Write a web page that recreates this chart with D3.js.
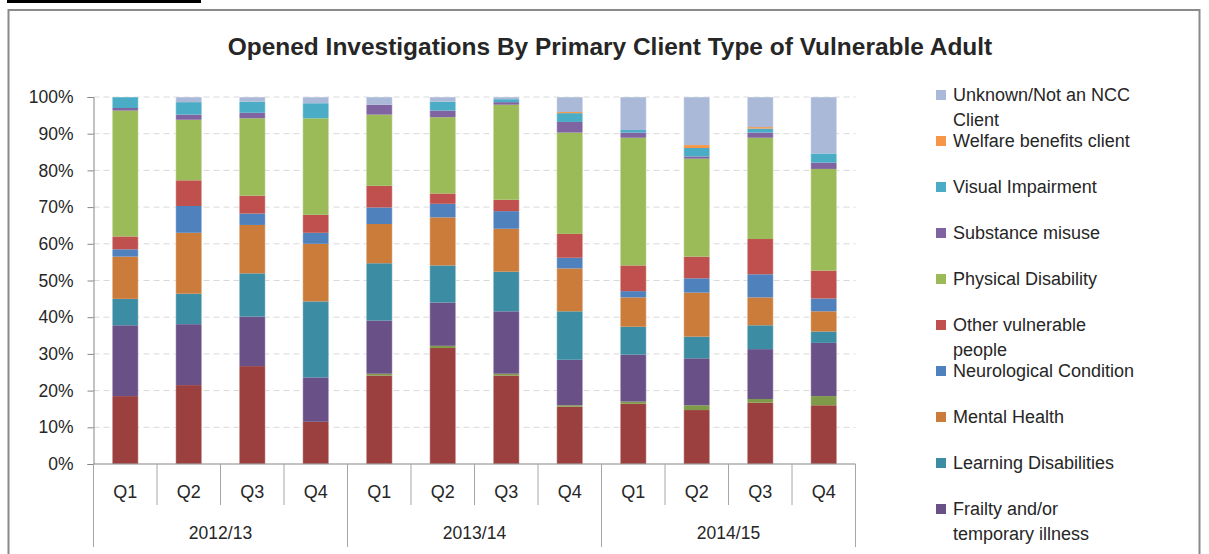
<!DOCTYPE html>
<html>
<head>
<meta charset="utf-8">
<script src="https://cdn.jsdelivr.net/npm/d3@7"></script>
<style>
  body { margin: 0; background: #fff; }
  text { font-family: "Liberation Sans", Arial, sans-serif; fill: #262626; }
</style>
</head>
<body>
<div id="chart"></div>
<script>
// Categories
const quarters = ["Q1", "Q2", "Q3", "Q4", "Q1", "Q2", "Q3", "Q4", "Q1", "Q2", "Q3", "Q4"];
const years = ["2012/13", "2013/14", "2014/15"];

// Series, bottom of the stack first. The first two are below the visible part of the legend.
const seriesNames = [
    "Series (legend cut off) 1",
    "Series (legend cut off) 2",
    "Frailty and/or temporary illness",
    "Learning Disabilities",
    "Mental Health",
    "Neurological Condition",
    "Other vulnerable people",
    "Physical Disability",
    "Substance misuse",
    "Visual Impairment",
    "Welfare benefits client",
    "Unknown/Not an NCC Client"
];

// Percentages, one array per series
const hidden1Values   = [18.5, 21.5, 26.7, 11.5, 24.1, 31.6, 24.1, 15.6, 16.4, 14.7, 16.7, 16.0];
const hidden2Values   = [0, 0, 0, 0, 0.5, 0.6, 0.5, 0.4, 0.6, 1.3, 1.0, 2.5];
const frailtyValues   = [19.3, 16.6, 13.5, 12.1, 14.5, 11.8, 17.0, 12.4, 12.8, 12.8, 13.6, 14.5];
const learningValues  = [7.2, 8.3, 11.8, 20.7, 15.6, 10.1, 10.8, 13.2, 7.6, 5.9, 6.5, 3.1];
const mentalValues    = [11.5, 16.6, 13.2, 15.7, 10.7, 13.1, 11.7, 11.7, 8.0, 12.0, 7.6, 5.5];
const neuroValues     = [2.0, 7.3, 3.1, 3.0, 4.5, 3.7, 4.8, 2.9, 1.7, 3.9, 6.3, 3.5];
const otherValues     = [3.5, 7.0, 4.9, 4.9, 5.9, 2.8, 3.1, 6.5, 7.0, 5.9, 9.6, 7.6];
const physicalValues  = [34.3, 16.5, 21.1, 26.3, 19.4, 20.8, 25.9, 27.6, 34.8, 26.7, 27.6, 27.7];
const substanceValues = [0.7, 1.4, 1.5, 0, 2.7, 1.8, 0.7, 2.9, 1.4, 0.6, 1.4, 1.7];
const visualValues    = [3.0, 3.4, 3.0, 4.1, 0, 2.4, 0.8, 2.4, 0.7, 2.3, 1.1, 2.5];
const welfareValues   = [0, 0, 0, 0, 0, 0, 0, 0.3, 0, 0.8, 0.4, 0];
const unknownValues   = [0, 1.4, 1.3, 1.7, 2.1, 1.3, 0.6, 4.1, 9.0, 13.1, 8.2, 15.4];

const yTicks = [0, 0.1, 0.2, 0.3, 0.4, 0.5, 0.6, 0.7, 0.8, 0.9, 1];

const seriesValues = [hidden1Values, hidden2Values, frailtyValues, learningValues, mentalValues,
    neuroValues, otherValues, physicalValues, substanceValues, visualValues, welfareValues, unknownValues];

const colours = ["#9b403e", "#7f9a48", "#695188", "#3c8da4", "#cc7c3a", "#4f81bd",
    "#c0504d", "#9bbb59", "#8064a2", "#4bacc6", "#f79646", "#aab9d8"];

// Legend text split into lines, as the original wraps them
const legendLines = {
    "Unknown/Not an NCC Client": ["Unknown/Not an NCC", "Client"],
    "Other vulnerable people": ["Other vulnerable", "people"],
    "Frailty and/or temporary illness": ["Frailty and/or", "temporary illness"]
};

// Build a table the stack generator can use
const table = quarters.map((q, i) => {
    const row = { idx: i };
    seriesNames.forEach((s, j) => { row[s] = seriesValues[j][i]; });
    return row;
});

const width = 1209, height = 554;
const margin = { left: 93.5, right: 1209 - 855.5, top: 97, bottom: 554 - 464 };

const svg = d3.select('#chart')
    .append('svg')
    .attr('width', width)
    .attr('height', height);

// Outer chart border and the black strip above it
svg.append('rect')
    .attr('x', 7).attr('y', 0).attr('width', 194).attr('height', 3)
    .attr('fill', '#000');
svg.append('rect')
    .attr('x', 8.5).attr('y', 10).attr('width', 1191).attr('height', 700)
    .attr('fill', 'none').attr('stroke', '#8a8a8a').attr('stroke-width', 2);

const x = d3.scaleBand()
    .domain(d3.range(quarters.length))
    .range([margin.left, width - margin.right])
    .paddingInner(0.59)
    .paddingOuter(0.295);

const y = d3.scaleLinear()
    .domain([0, 1])
    .range([height - margin.bottom, margin.top]);

// Gridlines
svg.append('g')
    .selectAll('line')
    .data(yTicks.filter(t => t > 0))
    .enter()
    .append('line')
    .attr('x1', margin.left).attr('x2', width - margin.right)
    .attr('y1', d => y(d)).attr('y2', d => y(d))
    .attr('stroke', '#d9d9d9')
    .attr('stroke-width', 1)
    .attr('stroke-dasharray', '6,4');

// Stacked bars
const stack = d3.stack()
    .keys(seriesNames)
    .offset(d3.stackOffsetExpand);
const stacked = stack(table);

const layers = svg.append('g')
    .selectAll('g')
    .data(stacked)
    .enter()
    .append('g')
    .attr('fill', (d, i) => colours[i]);

layers.selectAll('rect')
    .data(d => d)
    .enter()
    .append('rect')
    .attr('x', d => x(d.data.idx))
    .attr('width', x.bandwidth())
    .attr('y', d => y(d[1]))
    .attr('height', d => Math.max(0, y(d[0]) - y(d[1])));

// Thin light edges round each bar
svg.append('g')
    .selectAll('rect')
    .data(table)
    .enter()
    .append('rect')
    .attr('x', d => x(d.idx))
    .attr('width', x.bandwidth())
    .attr('y', y(1))
    .attr('height', y(0) - y(1))
    .attr('fill', 'none')
    .attr('stroke', '#ffffff')
    .attr('stroke-opacity', 0.45)
    .attr('stroke-width', 1);

// Y axis
const yAxis = d3.axisLeft(y)
    .tickValues(yTicks)
    .tickFormat(d3.format('.0%'))
    .tickSize(6)
    .tickPadding(14);
const yg = svg.append('g')
    .attr('transform', `translate(${margin.left},0)`)
    .call(yAxis);
yg.select('.domain').attr('stroke', '#868686');
yg.selectAll('.tick line').attr('stroke', '#868686');
yg.selectAll('.tick text')
    .attr('font-size', 17.5)
    .attr('font-family', '"Liberation Sans", Arial, sans-serif')
    .attr('fill', '#262626');

// X axis: baseline, quarter labels and separators
const axisY = y(0);
const plotLeft = margin.left, plotRight = width - margin.right;

svg.append('line')
    .attr('x1', plotLeft).attr('x2', plotRight)
    .attr('y1', axisY).attr('y2', axisY)
    .attr('stroke', '#868686');

// separator positions at every category boundary
const bounds = d3.range(quarters.length + 1).map(i => plotLeft + i * (plotRight - plotLeft) / quarters.length);
svg.append('g')
    .selectAll('line')
    .data(bounds)
    .enter()
    .append('line')
    .attr('x1', d => d).attr('x2', d => d)
    .attr('y1', axisY)
    .attr('y2', (d, i) => i % 4 === 0 ? 547 : 505)
    .attr('stroke', '#a6a6a6');

svg.append('g')
    .selectAll('text')
    .data(quarters)
    .enter()
    .append('text')
    .attr('x', (d, i) => x(i) + x.bandwidth() / 2)
    .attr('y', 498)
    .attr('text-anchor', 'middle')
    .attr('font-size', 18)
    .text(d => d);

svg.append('g')
    .selectAll('text')
    .data(years)
    .enter()
    .append('text')
    .attr('x', (d, i) => (bounds[i * 4] + bounds[i * 4 + 4]) / 2)
    .attr('y', 539)
    .attr('text-anchor', 'middle')
    .attr('font-size', 17.5)
    .text(d => d);

// Title
const title = svg.append('text')
    .attr('x', 610)
    .attr('y', 55)
    .attr('text-anchor', 'middle')
    .attr('font-weight', 'bold')
    .attr('font-size', 20)
    .attr('fill', '#000')
    .text('Opened Investigations By Primary Client Type of Vulnerable Adult');
const tw = title.node().getComputedTextLength();
title.attr('font-size', 20 * 765 / tw);

// Legend (top of stack first); only the entries that fit are visible
const legendItems = seriesNames.slice().reverse();
const legend = svg.append('g');
const items = legend.selectAll('g')
    .data(legendItems)
    .enter()
    .append('g')
    .attr('transform', (d, i) => `translate(936, ${95 + i * 46})`);

items.append('rect')
    .attr('x', 0).attr('y', -5)
    .attr('width', 10).attr('height', 10)
    .attr('fill', d => colours[seriesNames.indexOf(d)]);

items.each(function (d) {
    const lines = legendLines[d] || [d];
    const t = d3.select(this).append('text')
        .attr('x', 17)
        .attr('y', 6)
        .attr('font-size', 18);
    lines.forEach((ln, k) => {
        t.append('tspan')
            .attr('x', 17)
            .attr('dy', k === 0 ? 0 : 25)
            .text(ln);
    });
});
// hide the entries that sit below the picture in the original
items.filter((d, i) => i >= 10).remove();
</script>
</body>
</html>
